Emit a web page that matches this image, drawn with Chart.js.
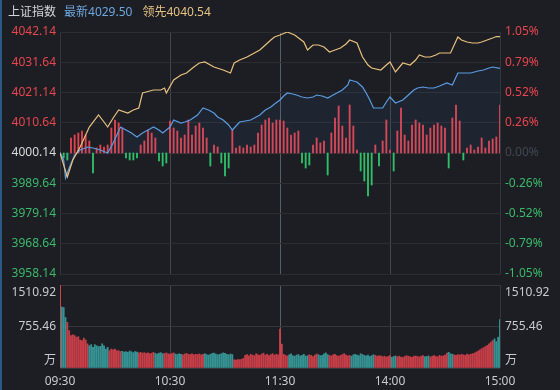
<!DOCTYPE html>
<html>
<head>
<meta charset="utf-8">
<script src="https://cdn.jsdelivr.net/npm/chart.js@4.4.0/dist/chart.umd.min.js"></script>
<style>
html, body { margin: 0; padding: 0; background: #1c1e23; }
#wrap { position: relative; width: 560px; height: 390px; overflow: hidden; background: #1c1e23; }
#edge { position: absolute; left: 0; top: 0; width: 2px; height: 390px; background: #2b5a88; }
#head { position: absolute; left: 8px; top: 4px; z-index: 2; white-space: nowrap;
        font: 12px/16px "Noto Sans", "Noto Sans CJK SC", sans-serif; }
#main { position: absolute; left: 0; top: 0; }
#vol { position: absolute; left: 0; top: 284px; }
</style>
</head>
<body>
<div id="wrap">
  <canvas id="main" width="560" height="284"></canvas>
  <canvas id="vol" width="560" height="106"></canvas>
  <div id="head"><span style="color:#d2d5da">上证指数</span><span style="color:#6ea6e0;margin-left:8px">最新4029.50</span><span style="color:#e5c183;margin-left:10px">领先4040.54</span></div>
  <div id="edge"></div>
</div>
<script>
// axis ticks / labels
var prevClose = 4000.14;
var timeTicks = [0, 60, 120, 180, 240];
var timeLabels = ['09:30', '10:30', '11:30', '14:00', '15:00'];
var priceTicks = [3958.14, 3968.64, 3979.14, 3989.64, 4000.14, 4010.64, 4021.14, 4031.64, 4042.14];
var pctLabels = ['-1.05%', '-0.79%', '-0.52%', '-0.26%', '0.00%', '0.26%', '0.52%', '0.79%', '1.05%'];
var volTicks = [0, 755.46, 1510.92];
var volLabels = ['万', '755.46', '1510.92'];

// 领先 (yellow line), minutes from 09:30
var leadMin = [0, 4, 7, 11, 16, 21, 24, 26, 29, 32, 37, 40, 43, 45, 47, 51, 55, 57, 58, 62,
    66, 69, 73, 76, 79, 84, 89, 93, 95, 98, 102, 106, 109, 112, 115, 117, 120, 124, 128, 133,
    135, 138, 141, 144, 147, 150, 153, 156, 158, 162, 165, 168, 170, 175, 178, 180, 183, 187, 191, 194,
    196, 199, 202, 205, 207, 213, 215, 217, 219, 222, 225, 228, 230, 233, 236, 238, 240];
var leadPrice = [4000.14, 3991.81, 3997.71, 4002.22, 4009.16, 4013.33, 4010.90, 4009.16, 4012.29, 4015.07,
    4014.02, 4015.07, 4015.76, 4020.97, 4021.31, 4022.01, 4022.01, 4022.70, 4020.97, 4025.48,
    4027.21, 4027.91, 4029.99, 4031.38, 4031.73, 4029.99, 4028.95, 4027.91, 4031.38, 4032.42,
    4033.46, 4034.85, 4035.89, 4037.63, 4039.36, 4040.40, 4041.10, 4042.14, 4041.10, 4038.67,
    4035.89, 4037.63, 4037.63, 4036.93, 4035.20, 4035.89, 4036.59, 4037.97, 4039.36, 4038.32,
    4033.46, 4030.69, 4029.64, 4028.95, 4030.69, 4031.73, 4028.26, 4031.38, 4030.69, 4032.42,
    4034.16, 4033.46, 4033.46, 4034.16, 4034.85, 4034.85, 4037.63, 4040.40, 4039.36, 4038.67,
    4038.32, 4038.32, 4038.67, 4039.36, 4040.06, 4040.58, 4040.54];

// 最新 (blue line)
var lastMin = [0, 2, 3, 5, 8, 11, 15, 18, 22, 26, 29, 33, 36, 39, 42, 45, 48, 51, 54, 56,
    60, 62, 66, 68, 71, 75, 78, 81, 84, 86, 89, 92, 94, 96, 98, 101, 104, 106, 109, 112,
    115, 117, 120, 122, 124, 127, 129, 132, 135, 138, 140, 143, 146, 148, 151, 154, 157, 158, 160, 162,
    165, 167, 169, 171, 173, 176, 178, 180, 183, 187, 190, 193, 195, 198, 201, 204, 207, 211, 214, 217,
    220, 224, 228, 231, 234, 236, 240];
var lastPrice = [4000.30, 3997.71, 3991.46, 3994.93, 3999.45, 4001.18, 4002.22, 4001.88, 4001.18, 4000.14,
    4003.61, 4009.16, 4008.12, 4007.08, 4005.69, 4007.08, 4008.12, 4009.16, 4008.12, 4007.08,
    4009.16, 4011.59, 4010.55, 4010.90, 4011.59, 4013.33, 4015.76, 4015.07, 4014.02, 4012.64,
    4011.59, 4009.86, 4008.12, 4009.51, 4010.90, 4011.25, 4011.59, 4012.29, 4013.33, 4015.07,
    4016.11, 4017.15, 4018.54, 4019.92, 4020.97, 4020.62, 4020.27, 4019.58, 4019.23, 4019.58,
    4020.27, 4019.92, 4019.23, 4019.92, 4020.97, 4022.01, 4023.74, 4025.48, 4025.13, 4024.78,
    4023.05, 4020.97, 4018.54, 4015.76, 4015.76, 4015.76, 4017.84, 4019.58, 4017.50, 4018.54,
    4020.27, 4022.01, 4022.70, 4023.05, 4022.70, 4022.70, 4023.40, 4024.44, 4023.74, 4027.91,
    4027.91, 4027.91, 4028.60, 4028.95, 4029.64, 4029.99, 4029.50];

// red/green strength bars, one every 2 minutes
var strength = [0, -5, -7, 15, 18, 20, 22, 18, 12, -20,
    5, 8, 6, 8, 25, 33, 30, 25, -5, -7,
    -7, -5, 8, 12, 23, 20, 15, -8, -13, -10,
    32, 25, 22, 15, 18, 33, 18, 27, 30, 25,
    15, -13, 8, 6, -10, -23, -15, 23, 5, 7,
    5, 8, 6, 8, 20, 28, 33, 35, 30, 33,
    33, 32, 25, 18, 20, 22, -10, -15, -12, 8,
    15, 10, 12, -22, 20, 35, 47, 27, 15, 48,
    27, 3, -18, -28, -43, -32, 8, -13, 12, 33,
    3, -18, 22, 45, 18, 12, 28, 33, 30, 28,
    18, 25, 28, 30, 27, 25, -15, 35, 48, 32,
    -7, 5, 8, 3, 6, 15, 5, 12, 14, 16,
    48];

// volume per minute (万)
var volume = [
    1510.92, 1110, 1100, 920, 830, 680, 590, 605, 590, 560,
    570, 510, 500, 545, 510, 440, 405, 425, 375, 425,
    405, 390, 395, 440, 405, 345, 375, 315, 345, 330,
    345, 315, 315, 300, 305, 290, 300, 285, 310, 295,
    280, 300, 290, 275, 285, 270, 280, 265, 275, 260,
    270, 285, 265, 255, 270, 280, 260, 265, 275, 260,
    250, 265, 275, 255, 245, 260, 250, 240, 255, 265,
    250, 245, 260, 240, 250, 245, 255, 240, 250, 260,
    245, 235, 250, 265, 270, 255, 240, 250, 260, 275,
    265, 250, 240, 255, 245, 150, 145, 155, 150, 160,
    175, 230, 245, 220, 250, 235, 225, 260, 240, 230,
    255, 270, 235, 250, 225, 245, 260, 235, 250, 240,
    710, 435, 250, 230, 220, 240, 260, 225, 215, 235,
    245, 220, 230, 250, 215, 225, 240, 230, 210, 235,
    255, 240, 225, 230, 260, 275, 245, 230, 220, 240,
    250, 225, 215, 230, 245, 260, 235, 220, 230, 215,
    240, 250, 235, 225, 260, 245, 230, 220, 235, 210,
    225, 240, 230, 215, 220, 220, 205, 215, 200, 210,
    225, 195, 210, 220, 205, 215, 200, 190, 210, 225,
    215, 205, 195, 215, 220, 210, 200, 215, 225, 205,
    210, 220, 200, 215, 225, 210, 205, 230, 215, 220,
    235, 270, 285, 260, 250, 240, 230, 245, 235, 250,
    240, 230, 255, 240, 250, 260, 270, 290, 310, 330,
    350, 370, 390, 410, 440, 470, 500, 530, 480, 560,
    880];

Chart.defaults.font.family = '"Noto Sans", "Noto Sans CJK SC", sans-serif';
Chart.defaults.font.size = 12;

function priceAt(m) {
    for (var i = 1; i < lastMin.length; i++) {
        if (m <= lastMin[i]) {
            var t = (m - lastMin[i - 1]) / (lastMin[i] - lastMin[i - 1]);
            return lastPrice[i - 1] + t * (lastPrice[i] - lastPrice[i - 1]);
        }
    }
    return lastPrice[lastPrice.length - 1];
}

function vGrid(ctx) {
    var v = ctx.tick.value;
    if (v === 120) return '#5a5d64';
    if (v === 60 || v === 180) return '#43464d';
    return '#34373d';
}

function priceColor(v) {
    if (v > prevClose + 0.01) return '#e8454f';
    if (v < prevClose - 0.01) return '#3bb96b';
    return null;
}

// fixed axis width, no extra padding from the labels
function fixWidth(s) {
    s.width = 60;
    s.paddingTop = 0;
    s.paddingBottom = 0;
}

var setTimeTicks = function (s) { s.ticks = timeTicks.map(function (v) { return { value: v }; }); };
var setPriceTicks = function (s) { s.ticks = priceTicks.map(function (v) { return { value: v }; }); };
var setVolTicks = function (s) { s.ticks = volTicks.map(function (v) { return { value: v }; }); };

// Main chart
var chart1 = document.getElementById('main');
var myChart1 = new Chart(chart1, {
    type: 'line',
    data: {
        datasets: [{
            label: '领先',
            data: leadMin.map(function (m, i) { return { x: m, y: leadPrice[i] }; }),
            borderColor: '#e8c07e',
            borderWidth: 1.2,
            pointRadius: 0,
            fill: false,
            yAxisID: 'y',
            order: 0
        }, {
            label: '最新',
            data: lastMin.map(function (m, i) { return { x: m, y: lastPrice[i] }; }),
            borderColor: '#5b9ce4',
            borderWidth: 1.2,
            pointRadius: 0,
            fill: { value: prevClose },
            backgroundColor: 'rgba(70, 130, 200, 0.08)',
            yAxisID: 'y',
            order: 1
        }, {
            type: 'bar',
            label: '强弱',
            data: strength.map(function (v, i) { return { x: i * 2, y: v }; }),
            backgroundColor: function (ctx) {
                return ctx.raw && ctx.raw.y < 0 ? '#2fbf6a' : '#e2444f';
            },
            barThickness: 1.2,
            yAxisID: 'ys',
            order: 2
        }]
    },
    options: {
        responsive: false,
        animation: false,
        events: [],
        layout: { padding: { top: 32, bottom: 10, left: 0, right: 0 } },
        plugins: {
            legend: { display: false },
            tooltip: { enabled: false },
        },
        scales: {
            x: {
                type: 'linear', min: 0, max: 240, offset: false,
                afterBuildTicks: setTimeTicks,
                afterFit: function (s) { s.height = 0; },
                ticks: { display: false },
                grid: { color: vGrid, drawTicks: false, offset: false },
                border: { display: false }
            },
            y: {
                position: 'left', min: 3958.14, max: 4042.14,
                afterBuildTicks: setPriceTicks,
                afterFit: fixWidth,
                ticks: {
                    padding: 4,
                    color: function (ctx) { return priceColor(ctx.tick.value) || '#d8dade'; },
                    callback: function (v) { return v.toFixed(2); }
                },
                grid: { color: '#2a2d33', drawTicks: false },
                border: { display: false }
            },
            yp: {
                position: 'right', min: 3958.14, max: 4042.14,
                afterBuildTicks: setPriceTicks,
                afterFit: fixWidth,
                ticks: {
                    padding: 5,
                    color: function (ctx) { return priceColor(ctx.tick.value) || '#44474e'; },
                    callback: function (v, i) { return pctLabels[i]; }
                },
                grid: { display: false, drawTicks: false },
                border: { display: false }
            },
            ys: { display: false, min: -121, max: 121 }
        }
    }
});

// Volume chart
var volColors = volume.map(function (v, m) {
    if (m === 0) return '#d9434d';
    return priceAt(m) >= priceAt(m - 1) ? 'rgba(217, 67, 77, 0.9)' : 'rgba(58, 160, 160, 0.9)';
});

var volTickLabel = function (v, i) {
    if (i === 0) return [volLabels[0], ''];
    if (i === volTicks.length - 1) return ['', volLabels[i]];
    return volLabels[i];
};

var chart2 = document.getElementById('vol');
var myChart2 = new Chart(chart2, {
    type: 'bar',
    data: {
        datasets: [{
            label: '成交量',
            data: volume.map(function (v, m) { return { x: m, y: v }; }),
            backgroundColor: volColors,
            barThickness: 1.2
        }]
    },
    options: {
        responsive: false,
        animation: false,
        events: [],
        layout: { padding: { top: 1, bottom: 0, left: 0, right: 0 } },
        plugins: {
            legend: { display: false },
            tooltip: { enabled: false },
        },
        scales: {
            x: {
                type: 'linear', min: 0, max: 240, offset: false,
                afterBuildTicks: setTimeTicks,
                afterFit: function (s) { s.height = 22; },
                ticks: {
                    padding: 6, color: '#c8cbd0', maxRotation: 0, autoSkip: false,
                    callback: function (v, i) { return timeLabels[i]; }
                },
                grid: { color: vGrid, drawTicks: false, offset: false },
                border: { display: false }
            },
            y: {
                position: 'left', min: 0, max: 1510.92,
                afterBuildTicks: setVolTicks,
                afterFit: fixWidth,
                ticks: { padding: 4, color: '#c8cbd0', callback: volTickLabel },
                grid: { color: '#33363c', drawTicks: false },
                border: { display: false }
            },
            y2: {
                position: 'right', min: 0, max: 1510.92,
                afterBuildTicks: setVolTicks,
                afterFit: fixWidth,
                ticks: { padding: 5, color: '#c8cbd0', callback: volTickLabel },
                grid: { display: false, drawTicks: false },
                border: { display: false }
            }
        }
    }
});
</script>
</body>
</html>
